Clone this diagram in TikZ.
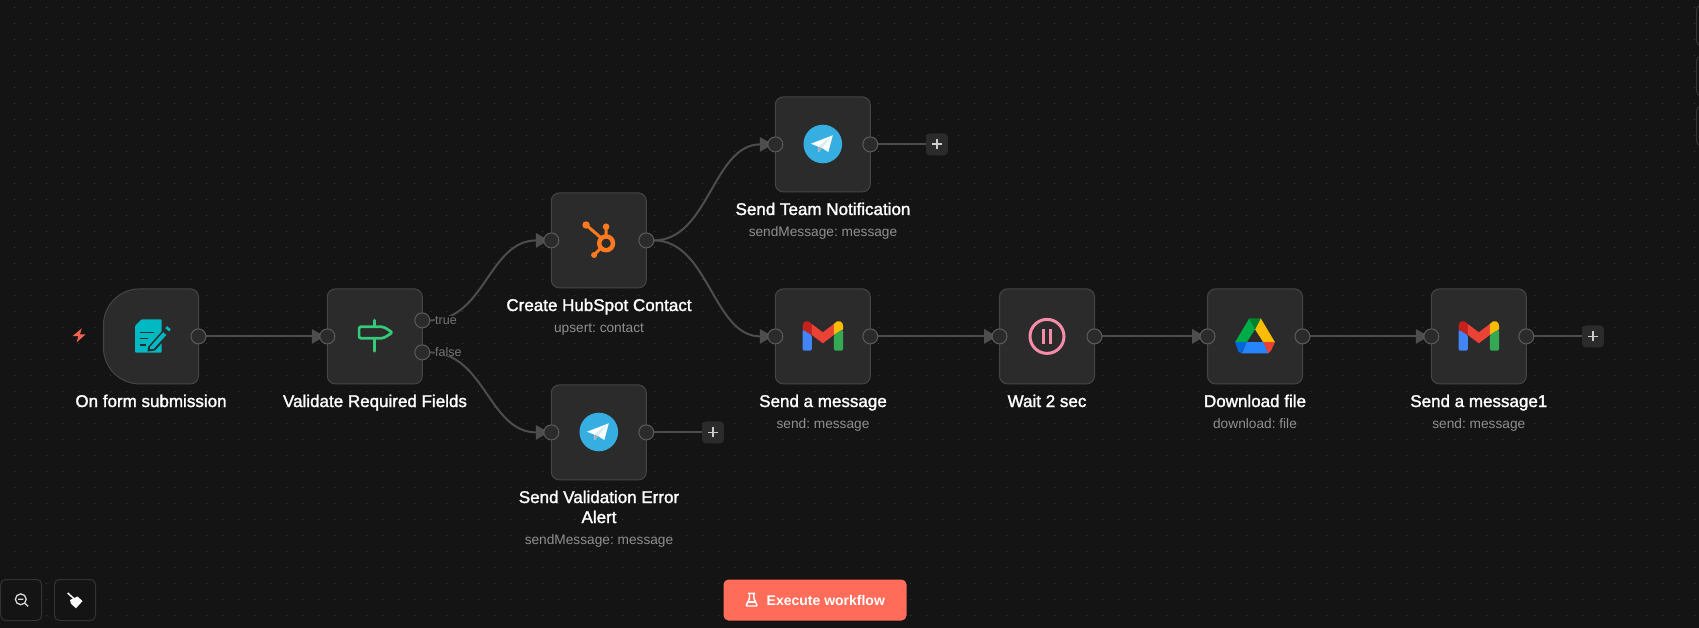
\documentclass[tikz,border=0pt]{standalone}
\usepackage{fontspec}
\setmainfont{Liberation Sans}
\newfontfamily\titlef[FakeBold=1.6]{Liberation Sans}
\frenchspacing
\usetikzlibrary{arrows.meta}
\pgfdeclarelayer{backlayer}
\pgfdeclarelayer{connlayer}
\pgfsetlayers{backlayer,connlayer,main}
\definecolor{bgc}{HTML}{141414}
\definecolor{dotc}{HTML}{3A3A3A}
\definecolor{boxc}{HTML}{2B2B2B}
\definecolor{edgec}{HTML}{454545}
\definecolor{hdc}{HTML}{5C5C5C}
\definecolor{connc}{HTML}{4D4D4D}
\definecolor{subc}{HTML}{8F8F8F}
\definecolor{lblc}{HTML}{767676}
\definecolor{tgc}{HTML}{37AEE2}
\definecolor{gblue}{HTML}{4285F4}
\definecolor{gdred}{HTML}{C5221F}
\definecolor{gred}{HTML}{EA4335}
\definecolor{gyel}{HTML}{FBBC04}
\definecolor{ggrn}{HTML}{34A853}
\definecolor{dgrn}{HTML}{00832D}
\definecolor{dgrn2}{HTML}{00AC47}
\definecolor{dblu}{HTML}{0066DA}
\definecolor{dblu2}{HTML}{2684FC}
\definecolor{pausec}{HTML}{F58CA8}
\definecolor{formc}{HTML}{00B9C2}
\definecolor{signc}{HTML}{35C97A}
\definecolor{hubc}{HTML}{FF7A1F}
\definecolor{boltc}{HTML}{EF6350}
\definecolor{execc}{HTML}{FF6D5A}
\definecolor{toolc}{HTML}{333333}
\tikzset{
  wbox/.style={draw=edgec,fill=boxc,line width=1pt,rounded corners=8pt,minimum width=95pt,minimum height=95pt,inner sep=0pt,outer sep=0pt},
  hd/.style={circle,draw=hdc,fill=boxc,line width=1pt,minimum size=15pt,inner sep=0pt,outer sep=0pt},
  conn/.style={draw=connc,line width=2pt},
  arr/.style={conn,shorten >=-5pt,-{Triangle[length=13pt,width=14.5pt]}},
  ttl/.style={font=\titlef\fontsize{17}{20}\selectfont,text=white,anchor=base,inner sep=0pt},
  subt/.style={font=\fontsize{13.7}{16}\selectfont,text=subc,anchor=base,inner sep=0pt},
  brlbl/.style={font=\fontsize{12.5}{15}\selectfont,text=lblc,anchor=base west,inner sep=0pt,fill=bgc},
  plusb/.style={fill=boxc,rounded corners=4pt,minimum size=22pt,inner sep=0pt,outer sep=0pt},
  toolb/.style={draw=toolc,fill=bgc,line width=1pt,rounded corners=5pt,minimum width=41pt,minimum height=41pt,inner sep=0pt,outer sep=0pt},
  execb/.style={fill=execc,rounded corners=5pt,minimum width=183pt,minimum height=41pt,inner sep=0pt,outer sep=0pt},
}
\newcommand{\plusmark}[1]{\draw[white!80!black,line width=1.8pt] ([xshift=-5pt]#1.center) -- ([xshift=5pt]#1.center) ([yshift=-5pt]#1.center) -- ([yshift=5pt]#1.center);}
\newcommand{\tgicon}{%
  \fill[tgc] (0,0) circle (19.3);
  \fill[white] (10,-8.7) -- (5.5,8) -- (-1,3.8) -- (-4,8) -- (-4.6,2.6) -- (-11.7,-0.3) -- cycle;
  \fill[white!78!tgc] (10,-8.7) -- (-4.6,2.6) -- (-4,8) -- (-1,3.8) -- cycle;
  \fill[white!65!black] (-4.6,3) -- (-4,8) -- (-1,3.8) -- cycle;
}
\newcommand{\gmailicon}{%
  \fill[gblue,rounded corners=1.5pt] (-20.3,-6.7) -- (-11,-1) -- (-11,14.7) -- (-20.3,14.7) -- cycle;
  \fill[gdred] (-20.3,-6.7) -- (-20.3,-10) .. controls (-20.3,-15) and (-15,-17) .. (-11,-12) -- (-11,-1) -- cycle;
  \fill[gred] (-11,-12) -- (0,-3.7) -- (11,-12) -- (11,-1) -- (0,7.3) -- (-11,-1) -- cycle;
  \fill[gyel] (20.3,-6.7) -- (20.3,-10) .. controls (20.3,-15) and (15,-17) .. (11,-12) -- (11,-1) -- cycle;
  \fill[ggrn,rounded corners=1.5pt] (20.3,-6.7) -- (11,-1) -- (11,14.7) -- (20.3,14.7) -- cycle;
}
\newcommand{\driveicon}{%
  \fill[dgrn2] (-5.7,-17.7) -- (-20,6.3) -- (-8.3,6.3) -- (0,-6.7) -- cycle;
  \fill[gyel] (5.7,-17.7) -- (20,6.3) -- (8.3,6.3) -- (0,-6.7) -- cycle;
  \fill[dgrn] (-5.7,-17.7) -- (5.7,-17.7) -- (0,-6.7) -- cycle;
  \fill[dblu2] (-8.3,6) -- (8.3,6) -- (13.3,17.3) -- (-13.3,17.3) -- cycle;
  \fill[dblu] (-20,6) -- (-8.3,6) -- (-14,17.3) -- (-16.5,15.7) -- cycle;
  \fill[gred] (8.3,6) -- (20,6) -- (16,14.7) -- (13.3,17.3) -- cycle;
}
\begin{document}
\begin{tikzpicture}[x=1pt,y=-1pt]
\useasboundingbox (0,0) rectangle (1699,628);
\begin{pgfonlayer}{backlayer}
\fill[bgc] (0,0) rectangle (1699,628);
% dot grid
\foreach \i in {0,...,105} {
  \fill[dotc] \foreach \j in {0,...,38} { ({14+16*\i},{7+16*\j}) rectangle ++(1,1) };
}
\end{pgfonlayer}
% clipped panels at right edge
\draw[toolc,line width=1pt,rounded corners=5pt] (1702,5) -- (1696.5,5) -- (1696.5,46) -- (1702,46);
\draw[toolc,line width=1pt,rounded corners=5pt] (1702,56) -- (1696.5,56) -- (1696.5,96) -- (1702,96);
\draw[toolc,line width=1pt,rounded corners=5pt] (1702,106) -- (1696.5,106) -- (1696.5,146) -- (1702,146);
% workflow boxes
\node[wbox,draw=none,fill=none] (form) at (151,336.4) {};
\draw[edgec,fill=boxc,line width=1pt]
  (form.east) [rounded corners=8pt] -- (form.south east)
  [rounded corners=36pt] -- (form.south west) -- (form.north west)
  [rounded corners=8pt] -- (form.north east) -- cycle;
\node[wbox] (val) at (374.8,336.4) {};
\node[wbox] (hub) at (598.8,240.4) {};
\node[wbox] (alert) at (598.8,432.4) {};
\node[wbox] (team) at (822.8,144.4) {};
\node[wbox] (mail) at (822.8,336.4) {};
\node[wbox] (wait) at (1047,336.4) {};
\node[wbox] (drive) at (1255,336.4) {};
\node[wbox] (mailb) at (1478.8,336.4) {};
% handles
\node[hd] (formout) at (form.east) {};
\node[hd] (valin) at (val.west) {};
\node[hd] (valtrue) at ([yshift=16pt]val.east) {};
\node[hd] (valfalse) at ([yshift=-16pt]val.east) {};
\node[hd] (hubin) at (hub.west) {};
\node[hd] (hubout) at (hub.east) {};
\node[hd] (alertin) at (alert.west) {};
\node[hd] (alertout) at (alert.east) {};
\node[hd] (teamin) at (team.west) {};
\node[hd] (teamout) at (team.east) {};
\node[hd] (mailin) at (mail.west) {};
\node[hd] (mailout) at (mail.east) {};
\node[hd] (waitin) at (wait.west) {};
\node[hd] (waitout) at (wait.east) {};
\node[hd] (drivein) at (drive.west) {};
\node[hd] (driveout) at (drive.east) {};
\node[hd] (mailbin) at (mailb.west) {};
\node[hd] (mailbout) at (mailb.east) {};
% add buttons
\node[plusb] (plusa) at (936.8,144.4) {};
\node[plusb] (plusb) at (713,432.4) {};
\node[plusb] (plusc) at (1593,336.4) {};
\plusmark{plusa}\plusmark{plusb}\plusmark{plusc}
% connectors
\begin{pgfonlayer}{connlayer}
\draw[arr] (formout) -- (valin.west);
\draw[arr] (valtrue.east) .. controls +(55,0) and +(-55,0) .. (hubin.west);
\draw[arr] (valfalse.east) .. controls +(55,0) and +(-55,0) .. (alertin.west);
\draw[arr] (hubout.east) .. controls +(55,0) and +(-55,0) .. (teamin.west);
\draw[arr] (hubout.east) .. controls +(55,0) and +(-55,0) .. (mailin.west);
\draw[arr] (mailout) -- (waitin.west);
\draw[arr] (waitout) -- (drivein.west);
\draw[arr] (driveout) -- (mailbin.west);
\draw[conn] (teamout) -- (plusa);
\draw[conn] (alertout) -- (plusb);
\draw[conn] (mailbout) -- (plusc);
\end{pgfonlayer}
% branch labels
\node[brlbl] (ltrue) at (435,324.3) {true};
\node[brlbl] (lfalse) at (435,356.3) {false};
% titles
\node[ttl] (t1) at (151,407) {On form submission};
\node[ttl] (t2) at (375,407) {Validate Required Fields};
\node[ttl] (t3) at (599,311) {Create HubSpot Contact};
\node[subt] (s3) at (599,332.3) {upsert: contact};
\node[ttl] (t4) at (823,215) {Send Team Notification};
\node[subt] (s4) at (823,236.3) {sendMessage: message};
\node[ttl] (t5) at (823,407) {Send a message};
\node[subt] (s5) at (823,428.3) {send: message};
\node[ttl] (t6) at (599,503) {Send Validation Error};
\node[ttl] (t6b) at (599,523) {Alert};
\node[subt] (s6) at (599,544.3) {sendMessage: message};
\node[ttl] (t7) at (1047,407) {Wait 2 sec};
\node[ttl] (t8) at (1255,407) {Download file};
\node[subt] (s8) at (1255,428.3) {download: file};
\node[ttl] (t9) at (1478.8,407) {Send a message1};
\node[subt] (s9) at (1478.8,428.3) {send: message};
% bolt
\begin{scope}[shift={(79,335.3)}]
  \fill[boltc] (2.7,-7) -- (-6.3,0.7) -- (-0.7,0.7) -- (-2.3,7) -- (6.7,-1) -- (1,-1) -- cycle;
\end{scope}
% form icon
\begin{scope}[shift={(151,336)}]
  \fill[formc,rounded corners=1pt] (-16,-10) -- (-9.5,-16.7) -- (10.7,-16.7) -- (10.7,16.7) -- (-16,16.7) -- cycle;
  \draw[boxc,line width=1.3pt] (-11,-3.7) -- (3,-3.7) (-11,2.3) -- (-3,2.3) (-11,9) -- (-5,9);
  \fill[boxc] (-2.8,10.8) -- (12,-6) -- (18,-1) -- (4,14.5) -- (-3.5,15.5) -- cycle;
  \fill[formc] (-0.8,10.7) -- (12.3,-3.8) -- (15.3,-1) -- (2.8,12.8) -- (-1.3,13.3) -- cycle;
  \fill[formc] (14.3,-7.8) -- (16.2,-9.8) -- (19.8,-6.6) -- (18,-4.6) -- cycle;
\end{scope}
% sign icon
\begin{scope}[shift={(374.8,336)}]
  \draw[signc,line width=2.7pt,line join=round,rounded corners=2pt] (-15.7,-9.3) -- (8.5,-9.3) -- (17.7,-3.5) -- (8.5,2.3) -- (-15.7,2.3) -- cycle;
  \draw[signc,line width=2.7pt,line cap=round] (0,-15.7) -- (0,-9.3) (0,2.3) -- (0,15.2);
\end{scope}
% hubspot icon
\begin{scope}[shift={(598.8,240)}]
  \draw[hubc,line width=4.4pt] (7.3,3.3) circle (6.9);
  \draw[hubc,line width=3pt] (-12.7,-15) -- (3,-1.5) (7.3,-13.3) -- (7.3,-4) (-4.7,15) -- (2,8);
  \fill[hubc] (-12.7,-15) circle (3.7) (7.3,-13.3) circle (3.3) (-4.7,15) circle (3);
\end{scope}
\begin{scope}[shift={(822.8,144)}]\tgicon\end{scope}
\begin{scope}[shift={(598.8,432)}]\tgicon\end{scope}
\begin{scope}[shift={(822.8,336)}]\gmailicon\end{scope}
\begin{scope}[shift={(1478.8,336)}]\gmailicon\end{scope}
\begin{scope}[shift={(1255,336)}]\driveicon\end{scope}
% pause icon
\begin{scope}[shift={(1047,336.4)}]
  \draw[pausec,line width=3pt] (0,0) circle (17);
  \draw[pausec,line width=2.6pt] (-3.7,-7.5) -- (-3.7,7.5) (3.7,-7.5) -- (3.7,7.5);
\end{scope}
% bottom tools
\node[toolb] (zoomb) at (21.2,600) {};
\node[toolb] (tidyb) at (75,600) {};
\begin{scope}[shift={(zoomb.center)}]
  \draw[white!85!black,line width=1.3pt] (-0.4,-0.7) circle (5.4);
  \draw[white!85!black,line width=1.3pt] (3.5,3.2) -- (7,6.3) (-3,-0.7) -- (2.2,-0.7);
\end{scope}
\begin{scope}[shift={(tidyb.center)}]
  \draw[white,line width=1.5pt] (-7.3,-7) -- (-0.7,-1);
  \fill[white] (-5,0) -- (2.5,-3.5) -- (7.5,1) -- (1,8.3) -- (-4,3.7) -- cycle;
\end{scope}
\node[execb] (exec) at (815,600) {};
\node[font=\bfseries\fontsize{14}{17}\selectfont,text=white,inner sep=0pt] (exect) at (825.8,600) {Execute workflow};
\begin{scope}[shift={(751.7,600)}]
  \draw[white,line width=1.4pt,line join=round,rounded corners=1pt] (-3.5,-6.7) -- (3.5,-6.7) (-2.2,-6.7) -- (-2.2,-1.5) -- (-5.8,6) -- (5.8,6) -- (2.2,-1.5) -- (2.2,-6.7);
  \draw[white,line width=1.2pt] (-3.8,2) -- (3.8,2);
\end{scope}
\end{tikzpicture}
\end{document}
